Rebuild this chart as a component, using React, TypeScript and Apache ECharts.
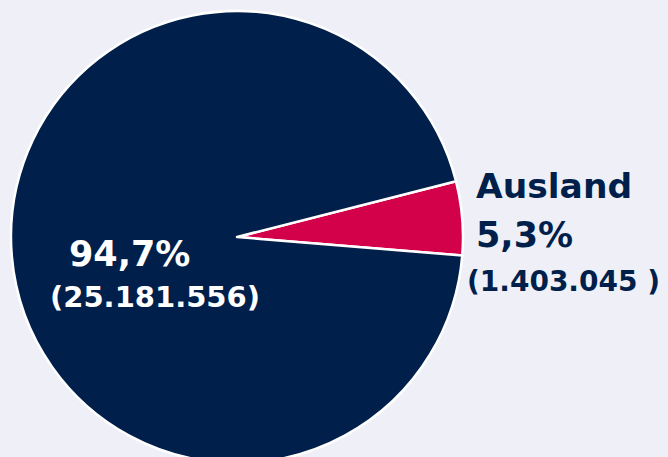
import React, { useEffect, useRef } from "react";
import * as echarts from "echarts";

const categories = ["Ausland", "Inland"];
const values = [1403045, 25181556];
const percentLabels = ["5,3%", "94,7%"];
const countLabels = ["(1.403.045 )", "(25.181.556)"];

const NAVY = "#001f4b";
const RED = "#d3004a";
const BG = "#eff0f7";
const FONT = "DejaVu Sans";

export default function App() {
  const ref = useRef<HTMLDivElement>(null);
  useEffect(() => {
    document.body.style.margin = "0";
    const chart = echarts.init(ref.current!, null, { renderer: "svg" });
    chart.setOption({
      animation: false,
      backgroundColor: BG,
      series: [
        {
          type: "pie",
          center: [237, 237],
          radius: 226,
          startAngle: 14.3,
          clockwise: true,
          label: { show: false },
          labelLine: { show: false },
          itemStyle: { borderColor: "#ffffff", borderWidth: 2.5 },
          silent: true,
          z: 1,
          data: categories.map((c, i) => ({
            name: c,
            value: values[i],
            itemStyle: { color: i === 0 ? RED : NAVY },
          })),
        },
      ],
      graphic: {
        elements: [
          {
            type: "text",
            left: 476,
            top: 168,
            z: 100,
            style: { text: categories[0], fill: NAVY, font: `bold 34.5px "${FONT}"` },
          },
          {
            type: "text",
            left: 476,
            top: 217,
            z: 100,
            style: { text: percentLabels[0], fill: NAVY, font: `bold 35px "${FONT}"` },
          },
          {
            type: "text",
            left: 467,
            top: 267,
            z: 100,
            style: { text: countLabels[0], fill: NAVY, font: `bold 28px "${FONT}"` },
          },
          {
            type: "text",
            left: 69,
            top: 236,
            z: 100,
            style: { text: percentLabels[1], fill: "#ffffff", font: `bold 35px "${FONT}"` },
          },
          {
            type: "text",
            left: 50,
            top: 282,
            z: 100,
            style: { text: countLabels[1], fill: "#ffffff", font: `bold 29px "${FONT}"` },
          },
        ],
      },
    });
    return () => chart.dispose();
  }, []);
  return <div ref={ref} style={{ width: 668, height: 457 }} />;
}
